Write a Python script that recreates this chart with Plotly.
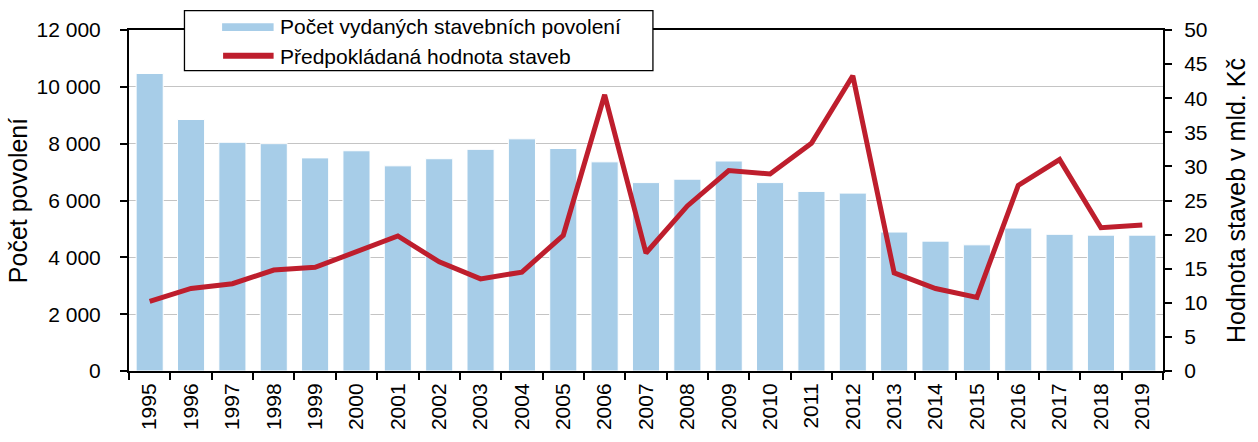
import plotly.graph_objects as go

# Data
years = [str(y) for y in range(1995, 2020)]
permits = [10470, 8850, 8050, 8000, 7500, 7750, 7220, 7470, 7800, 8170,
           7830, 7360, 6630, 6750, 7390, 6630, 6320, 6260, 4890, 4570,
           4440, 5030, 4810, 4780, 4780]
value_bn = [10.2, 12.1, 12.8, 14.8, 15.2, 17.5, 19.8, 16.0, 13.5, 14.5,
            19.9, 40.5, 17.3, 24.2, 29.4, 28.9, 33.4, 43.3, 14.4, 12.1,
            10.8, 27.2, 31.0, 21.0, 21.4]
series_names = ["Počet vydaných stavebních povolení", "Předpokládaná hodnota staveb"]

left_ticks = list(range(0, 12001, 2000))
right_ticks = list(range(0, 51, 5))

FONT = "Arial, Liberation Sans, sans-serif"
BAR_COLOR = "#a7cde8"
LINE_COLOR = "#be1e2d"
AX_W = 2

W, H = 1258, 442
ML, MR, MT, MB = 129, 85, 30, 60
PW, PH = W - ML - MR, H - MT - MB


def px_x(px):
    """Pixel column -> paper x."""
    return (px - ML) / PW


def px_y(py):
    """Pixel row -> paper y."""
    return (H - MB - py) / PH


fig = go.Figure()
fig.add_trace(go.Bar(
    x=years, y=permits, name=series_names[0],
    marker=dict(color=BAR_COLOR, line=dict(color="white", width=1)),
    yaxis="y", showlegend=False,
))
fig.add_trace(go.Scatter(
    x=years, y=value_bn, name=series_names[1],
    mode="lines", line=dict(color=LINE_COLOR, width=5),
    yaxis="y2", showlegend=False,
))

n = len(years)
boundaries = [i - 0.5 for i in range(n + 1)]

# Framed legend box with wide swatches
shapes = [
    dict(type="rect", xref="paper", yref="paper",
         x0=px_x(185), x1=px_x(658), y0=px_y(72), y1=px_y(10),
         fillcolor="white", line=dict(color="black", width=1.3), layer="above"),
    dict(type="rect", xref="paper", yref="paper",
         x0=px_x(223), x1=px_x(275), y0=px_y(31), y1=px_y(23),
         fillcolor=BAR_COLOR, line=dict(width=0), layer="above"),
    dict(type="line", xref="paper", yref="paper",
         x0=px_x(224), x1=px_x(275), y0=px_y(56.5), y1=px_y(56.5),
         line=dict(color=LINE_COLOR, width=6), layer="above"),
]
annotations = [
    dict(text=series_names[0], xref="paper", yref="paper",
         x=px_x(279), y=px_y(26.5), xanchor="left", yanchor="middle",
         showarrow=False, font=dict(size=21)),
    dict(text=series_names[1], xref="paper", yref="paper",
         x=px_x(279), y=px_y(57.5), xanchor="left", yanchor="middle",
         showarrow=False, font=dict(size=21)),
]

fig.update_layout(
    width=W, height=H,
    margin=dict(l=ML, r=MR, t=MT, b=MB),
    paper_bgcolor="white", plot_bgcolor="white",
    font=dict(family=FONT, size=21, color="black"),
    separators=", ",
    bargap=0.345,
    shapes=shapes,
    annotations=annotations,
    xaxis=dict(
        type="category", tickson="boundaries", ticks="outside",
        ticklen=7, tickwidth=AX_W, tickcolor="black",
        showline=True, linecolor="black", linewidth=AX_W, mirror=True,
        tickangle=-90, showgrid=False, ticklabelstandoff=2,
    ),
    xaxis2=dict(
        overlaying="x", anchor="y", range=[-0.5, n - 0.5],
        tickmode="array", tickvals=boundaries, ticks="inside",
        ticklen=7, tickwidth=AX_W, tickcolor="black",
        showticklabels=False, showgrid=False, showline=False, zeroline=False,
    ),
    yaxis=dict(
        range=[0, 12000], tickmode="array", tickvals=left_ticks,
        tickformat=",d", ticks="outside", ticklen=7,
        tickwidth=AX_W, tickcolor="black",
        showline=True, linecolor="black", linewidth=AX_W,
        showgrid=True, gridcolor="#c4c4c4", gridwidth=1.2, zeroline=False,
        title=dict(text="Počet povolení", standoff=2),
        ticklabelstandoff=15,
    ),
    yaxis3=dict(
        overlaying="y", anchor="x", range=[0, 12000],
        tickmode="array", tickvals=left_ticks, ticks="inside", ticklen=7,
        tickwidth=AX_W, tickcolor="black",
        showticklabels=False, showgrid=False, showline=False, zeroline=False,
    ),
    yaxis2=dict(
        overlaying="y", side="right", anchor="x", range=[0, 50],
        tickmode="array", tickvals=right_ticks, ticks="outside", ticklen=7,
        tickwidth=AX_W, tickcolor="black",
        showline=True, linecolor="black", linewidth=AX_W,
        showgrid=False, zeroline=False,
        title=dict(text="Hodnota staveb v mld. Kč", standoff=21),
        ticklabelstandoff=8,
    ),
    yaxis4=dict(
        overlaying="y", side="right", anchor="x", range=[0, 50],
        tickmode="array", tickvals=right_ticks, ticks="inside", ticklen=7,
        tickwidth=AX_W, tickcolor="black",
        showticklabels=False, showgrid=False, showline=False, zeroline=False,
    ),
)

fig.write_html("out.html")
